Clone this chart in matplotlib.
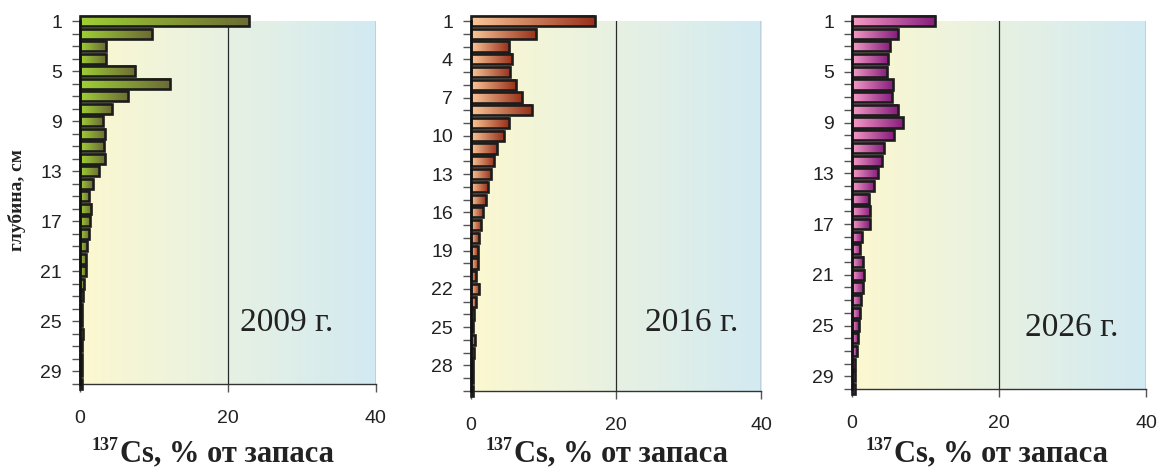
import numpy as np
import matplotlib
matplotlib.use("Agg")
import matplotlib.pyplot as plt
from matplotlib.colors import LinearSegmentedColormap

plt.rcParams["font.family"] = "Liberation Sans"

# depth layers, cm
depth = np.arange(1, 31)

# 137Cs share of total inventory per 1-cm layer, %
cs_2009 = [22.9, 9.7, 3.5, 3.5, 7.5, 12.2, 6.5, 4.3, 3.1, 3.4, 3.2, 3.4, 2.6, 1.7,
           1.25, 1.5, 1.4, 1.25, 0.9, 0.8, 0.8, 0.5, 0.4, 0.3, 0.25, 0.45, 0.25,
           0.25, 0.25, 0.25]
cs_2016 = [17.1, 9.0, 5.2, 5.7, 5.45, 6.2, 7.0, 8.4, 5.2, 4.5, 3.6, 3.2, 2.8, 2.3,
           2.05, 1.7, 1.4, 1.05, 0.95, 1.0, 0.65, 1.15, 0.7, 0.4, 0.25, 0.5, 0.4,
           0.25, 0.25, 0.25]
cs_2026 = [11.3, 6.2, 5.2, 4.95, 4.8, 5.6, 5.45, 6.25, 7.0, 5.7, 4.4, 4.1, 3.6, 3.0,
           2.25, 2.5, 2.4, 1.35, 1.15, 1.5, 1.7, 1.5, 1.25, 1.1, 0.95, 0.8, 0.65,
           0.45, 0.45, 0.4]

years = ["2009 г.", "2016 г.", "2026 г."]
series = [cs_2009, cs_2016, cs_2026]
label_steps = [4, 3, 4]
bar_colors = [("#9fd034", "#6c6b35"), ("#fcc898", "#98301a"), ("#f59cc6", "#861c7c")]

# axes rectangles in figure fractions
rects = [(0.0688, 0.1795, 0.2547, 0.7756),
         (0.4053, 0.1645, 0.2496, 0.7906),
         (0.7332, 0.1688, 0.2530, 0.7863)]
year_pos = [(0.54, 0.168), (0.60, 0.184), (0.59, 0.166)]
# x where "Cs" starts under each panel, px
xlabel_split = [120, 514, 894]

W, H = 1162, 468
bg_cmap = LinearSegmentedColormap.from_list(
    "bg", [(0, "#fcf8d0"), (0.5, "#e7f1e2"), (1, "#d2eaf2")])
ramp = np.linspace(0, 1, 256).reshape(1, -1)

fig = plt.figure(figsize=(W / 100, H / 100), dpi=100)

for i, (vals, year, step, (c0, c1)) in enumerate(zip(series, years, label_steps, bar_colors)):
    ax = fig.add_axes(rects[i])

    # plot area background
    ax.imshow(ramp, cmap=bg_cmap, extent=(0, 40, 30, 1), aspect="auto",
              interpolation="bicubic", zorder=0)
    ax.axvline(20, color="#2a2a2a", lw=0.9, zorder=1)
    ax.axvline(40, color="#2a2a2a", lw=0.9, zorder=1)

    # outlines from barh, gradient fill per bar
    cmap = LinearSegmentedColormap.from_list(f"bar{i}", [c0, c1])
    bars = ax.barh(depth, vals, height=0.8, facecolor="none",
                   edgecolor="#1c1c1c", lw=1.9, zorder=3)
    for b in bars:
        x0, y0 = b.get_x(), b.get_y()
        w, h = b.get_width(), b.get_height()
        ax.imshow(ramp, cmap=cmap, extent=(x0, x0 + w, y0 + h, y0), aspect="auto",
                  interpolation="bicubic", zorder=2, clip_on=False)
        b.set_clip_on(False)

    ax.set_xlim(0, 40)
    ax.set_ylim(30, 1)
    ax.set_aspect("auto")

    ax.set_xticks([0, 20, 40])
    ax.set_yticks(np.arange(1, 31, step))
    ax.set_yticks(depth, minor=True)
    ax.tick_params(axis="both", which="both", direction="out", length=6,
                   width=1.0, color="#555555", labelsize=14, labelcolor="#222222")
    ax.tick_params(axis="x", pad=13)
    ax.tick_params(axis="y", which="both", pad=7)

    for s in ["top", "right"]:
        ax.spines[s].set_visible(False)
    ax.spines["left"].set_color("#111111")
    ax.spines["left"].set_linewidth(1.8)
    ax.spines["left"].set_zorder(4)
    ax.spines["bottom"].set_color("#333333")
    ax.spines["bottom"].set_linewidth(1.0)

    ax.text(year_pos[i][0], year_pos[i][1], year, transform=ax.transAxes,
            ha="left", va="center", fontsize=24, family="Liberation Serif",
            color="#222222", zorder=5)

    # x label: isotope mass number as a raised prefix
    xs = xlabel_split[i] / W
    fig.text(xs, 1 - 461 / H, "Cs, % от запаса", ha="left", va="baseline",
             fontsize=22, family="Liberation Serif", fontweight="bold",
             color="#222222")
    fig.text(xs - 1 / W, 1 - 450 / H, "137", ha="right", va="baseline",
             fontsize=13, family="Liberation Serif", fontweight="bold",
             color="#222222")

fig.text(17 / W, 1 - 200 / H, "глубина, см", rotation=90, ha="center",
         va="center", fontsize=14, family="Liberation Serif", fontweight="bold",
         color="#222222")

fig.savefig("out.png", dpi=100)
